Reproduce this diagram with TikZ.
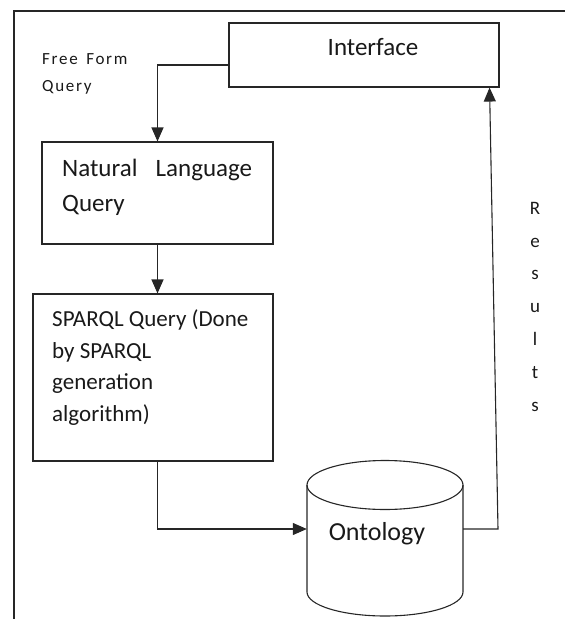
\documentclass[tikz,border=0pt]{standalone}
\usepackage{fontspec}
\setmainfont{Carlito}
\usetikzlibrary{arrows.meta}
\newcommand{\fsz}[2]{\fontsize{#1}{#2}\selectfont}
\begin{document}
\begin{tikzpicture}[x=1pt,y=-1pt,
  line/.style={draw=black!85,line width=1.1pt},
  flow/.style={line,-{Triangle[length=14pt,width=12pt]}},
  box/.style={line,rectangle,inner sep=0pt},
  txt/.style={inner sep=0pt,text=black!90}]
\useasboundingbox (0,0) rectangle (565,619);

% outer frame (open on the right and bottom)
\draw[line] (14,619) -- (14,11) -- (565,11);

% boxes
\node[box,minimum width=270pt,minimum height=64pt] (iface) at (364,55) {};
\node[box,minimum width=231pt,minimum height=102pt] (nlq) at (157.5,193) {};
\node[box,minimum width=240pt,minimum height=167pt] (sparql) at (153,377.5) {};

% ontology store drawn as a cylinder
\node[inner sep=0pt,minimum width=156pt,minimum height=20pt] (onto) at (385,529) {};
\draw[line,fill=white] (385,485) ellipse [x radius=78pt,y radius=24.5pt];
\draw[line] (307,485) -- (307,592) arc[start angle=180,end angle=360,x radius=78pt,y radius=24pt] -- (463,485);

% texts (base anchor: last line for plain multi-line nodes, first line with text width)
\node[txt,anchor=base,font=\fsz{25}{30}] (ifacet) at (373,55) {Interface};
\node[txt,anchor=base west,align=left,font={\fsz{17}{27}\addfontfeature{LetterSpace=10}}] (freet) at (42,91)
  {Free\hspace{3pt} Form\\Query};
\node[txt,anchor=base west,align=left,text width=190pt,font=\fsz{25}{35}] (nlqt) at (62,176)
  {Natural\hfill Language\\Query};
\node[txt,anchor=base west,align=left,font=\fsz{23}{31.5}] (sparqlt) at (52,421)
  {SPARQL Query (Done\\by SPARQL\\generation\\algorithm)};
\node[txt,anchor=base,font=\fsz{26}{30}] (ontot) at (377,540) {Ontology};
\node[txt,anchor=base,align=center,font=\fsz{19}{32.9}] (rest) at (535,411.5)
  {R\\e\\s\\u\\l\\t\\s};

% connectors
\coordinate (rbend) at (498,529);
\draw[flow] ([yshift=-10pt]iface.west) -| (nlq.north);
\draw[flow] (nlq.south) -- (nlq.south |- sparql.north);
\draw[flow] (sparql.south -| nlq.south) |- (onto.west);
\draw[flow] (onto.east) -- (rbend) -- ([xshift=-10pt]iface.south east);
\end{tikzpicture}
\end{document}
